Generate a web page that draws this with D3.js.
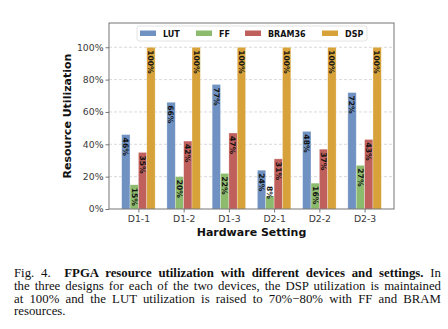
<!DOCTYPE html>
<html>
<head>
<meta charset="UTF-8">
<script src="https://cdn.jsdelivr.net/npm/d3@7/dist/d3.min.js"></script>
<style>
  body { margin: 0; background: #fff; width: 448px; height: 329px; overflow: hidden; position: relative; }
  svg text { font-family: 'DejaVu Sans', sans-serif; }
  #caption {
    position: absolute; left: 14px; top: 267px; width: 427px;
    font-family: 'Liberation Serif', 'Times New Roman', serif;
    font-size: 12.8px; line-height: 12.8px; color: #111;
  }
  #caption .ln { text-align: justify; text-align-last: justify; white-space: nowrap; }
  #caption .ln.last { text-align-last: left; }
</style>
</head>
<body>
<svg id="chart" width="448" height="250"></svg>
<div id="caption"></div>
<script>
// data
const settings = ["D1-1", "D1-2", "D1-3", "D2-1", "D2-2", "D2-3"];
const resources = ["LUT", "FF", "BRAM36", "DSP"];
const lut = [46, 66, 77, 24, 48, 72];
const ff = [15, 20, 22, 8, 16, 27];
const bram = [35, 42, 47, 31, 37, 43];
const dsp = [100, 100, 100, 100, 100, 100];
const yTicks = [0, 20, 40, 60, 80, 100];
const colors = ["#7092c2", "#8dbb6e", "#c0605d", "#d7a23a"];
const captionLines = [
  "Fig. 4.&nbsp; <b>FPGA resource utilization with different devices and settings.</b> In",
  "the three designs for each of the two devices, the DSP utilization is maintained",
  "at 100% and the LUT utilization is raised to 70%&minus;80% with FF and BRAM",
  "resources."
];

const series = [lut, ff, bram, dsp];

const svg = d3.select("#chart");
const mLeft = 109, mRight = 394, mTop = 23, mBottom = 209;

const x = d3.scaleLinear().domain([-0.65, 5.65]).range([mLeft, mRight]);
const y = d3.scaleLinear().domain([0, 115]).range([mBottom, mTop]);
const bw = 0.185;

// grid
svg.append("g").selectAll("line")
  .data(yTicks.filter(d => d > 0))
  .join("line")
  .attr("x1", mLeft).attr("x2", mRight)
  .attr("y1", d => y(d)).attr("y2", d => y(d))
  .attr("stroke", "#cfcfcf").attr("stroke-width", 0.8)
  .attr("stroke-dasharray", "3,2");

// bars
series.forEach((vals, si) => {
  const off = (si - 1.5) * bw;
  const g = svg.append("g");
  g.selectAll("rect")
    .data(vals)
    .join("rect")
    .attr("x", (d, i) => x(i + off - bw / 2))
    .attr("width", x(bw) - x(0))
    .attr("y", d => y(d))
    .attr("height", d => y(0) - y(d))
    .attr("fill", colors[si])
    .attr("stroke", "#fff").attr("stroke-opacity", 0.5).attr("stroke-width", 0.6);
  g.selectAll("text")
    .data(vals)
    .join("text")
    .attr("transform", (d, i) => {
      const cx = x(i + off);
      const ty = d < 10 ? y(d) - 10 : y(d) + 3;
      return `translate(${cx},${ty}) rotate(90)`;
    })
    .attr("dy", "0.35em")
    .attr("font-size", 7.6)
    .attr("font-weight", "bold")
    .attr("fill", "#111")
    .text(d => d + "%");
});

// axes
const yAxis = svg.append("g")
  .attr("transform", `translate(${mLeft},0)`)
  .call(d3.axisLeft(y).tickValues(yTicks).tickFormat(d => d + "%").tickSize(3.5).tickPadding(2));
const xAxis = svg.append("g")
  .attr("transform", `translate(0,${mBottom})`)
  .call(d3.axisBottom(x).tickValues(d3.range(settings.length)).tickFormat(i => settings[i]).tickSize(3.5).tickPadding(3));
[yAxis, xAxis].forEach(a => {
  a.select(".domain").remove();
  a.selectAll("line").attr("stroke", "#555").attr("stroke-width", 0.8);
  a.selectAll("text").attr("font-size", 9.3).attr("fill", "#3a3a3a").attr("font-family", "'DejaVu Sans', sans-serif");
});

// frame
svg.append("rect")
  .attr("x", mLeft).attr("y", mTop)
  .attr("width", mRight - mLeft).attr("height", mBottom - mTop)
  .attr("fill", "none").attr("stroke", "#666").attr("stroke-width", 0.9);

// axis titles
svg.append("text")
  .attr("transform", `translate(71,${(mTop + mBottom) / 2}) rotate(-90)`)
  .attr("text-anchor", "middle")
  .attr("font-size", 11).attr("font-weight", "bold").attr("fill", "#111")
  .text("Resource Utilization");
svg.append("text")
  .attr("x", (mLeft + mRight) / 2).attr("y", 236)
  .attr("text-anchor", "middle")
  .attr("font-size", 11).attr("font-weight", "bold").attr("fill", "#111")
  .text("Hardware Setting");

// legend
const lg = svg.append("g");
lg.append("rect")
  .attr("x", 137).attr("y", 26).attr("width", 230).attr("height", 15).attr("rx", 2)
  .attr("fill", "#fff").attr("fill-opacity", 0.9).attr("stroke", "#ddd").attr("stroke-width", 0.8);
const legX = [140, 196, 245, 322];
resources.forEach((r, i) => {
  lg.append("rect").attr("x", legX[i]).attr("y", 30.5).attr("width", 16).attr("height", 5.5).attr("fill", colors[i]);
  lg.append("text").attr("x", legX[i] + 23).attr("y", 36.5)
    .attr("font-size", 8).attr("font-weight", "bold").attr("fill", "#111").text(r);
});

// caption
d3.select("#caption").selectAll("div")
  .data(captionLines)
  .join("div")
  .attr("class", (d, i) => i === captionLines.length - 1 ? "ln last" : "ln")
  .html(d => d);
</script>
</body>
</html>
